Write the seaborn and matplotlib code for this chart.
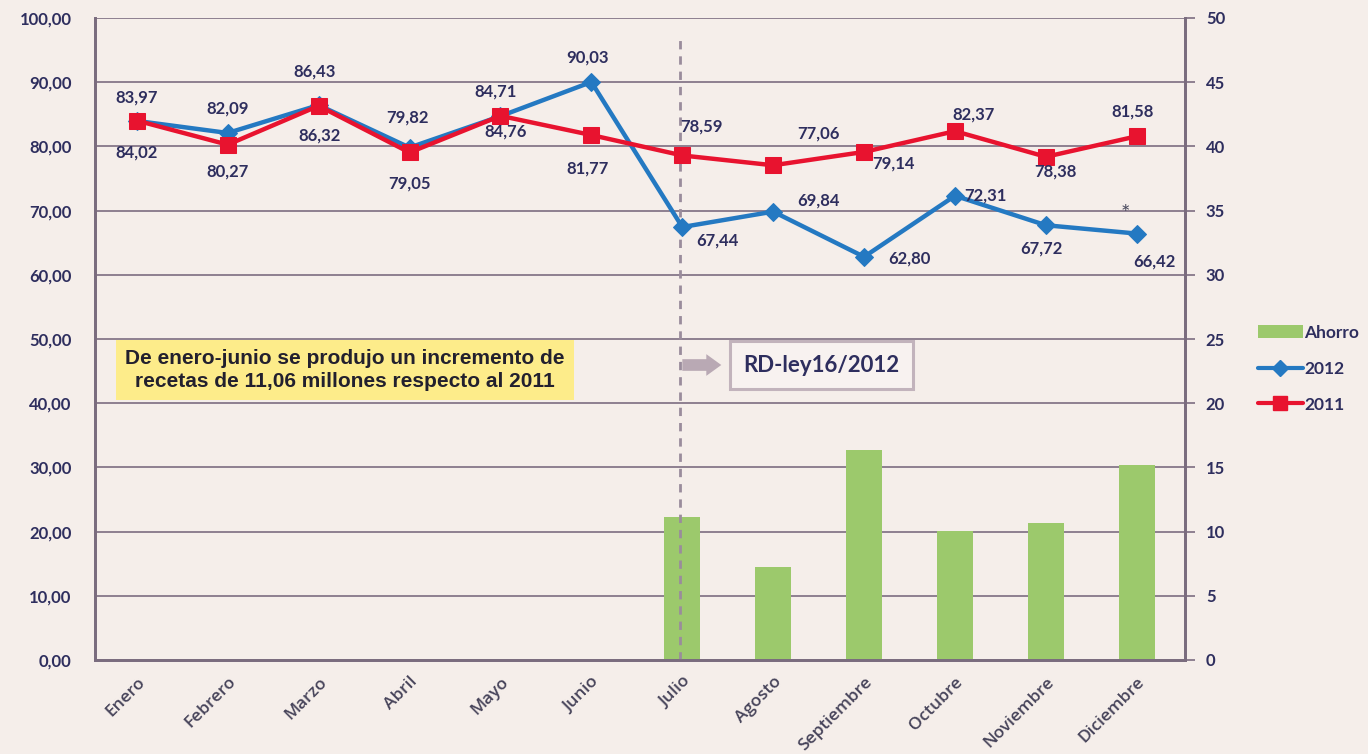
import numpy as np
import pandas as pd
import matplotlib
matplotlib.use("Agg")
import matplotlib.pyplot as plt
import seaborn as sns
from matplotlib.lines import Line2D
from matplotlib.patches import Patch

# ---------------- data ----------------
months = ["Enero", "Febrero", "Marzo", "Abril", "Mayo", "Junio", "Julio",
          "Agosto", "Septiembre", "Octubre", "Noviembre", "Diciembre"]
v2012 = [83.97, 82.09, 86.43, 79.82, 84.71, 90.03, 67.44, 69.84, 62.80, 72.31, 67.72, 66.42]
v2011 = [84.02, 80.27, 86.32, 79.05, 84.76, 81.77, 78.59, 77.06, 79.14, 82.37, 78.38, 81.58]
ahorro_months = ["Julio", "Agosto", "Septiembre", "Octubre", "Noviembre", "Diciembre"]
ahorro = [11.15, 7.22, 16.34, 10.06, 10.66, 15.16]
left_ticks = [0, 10, 20, 30, 40, 50, 60, 70, 80, 90, 100]
right_ticks = [0, 5, 10, 15, 20, 25, 30, 35, 40, 45, 50]

# label offsets (pixels) – styling only
off2012 = [(0, 23), (0, 24), (-4, 34), (-2, 30), (-5, 25), (-4, 24),
           (35, -13), (45, 11), (45, -2), (30, 0), (-4, -23), (18, -28)]
off2011 = [(0, -32), (0, -27), (1, -30), (0, -31), (5, -16), (-4, -33),
           (19, 29), (45, 32), (29, -12), (19, 17), (10, -15), (-4, 25)]

# ---------------- style ----------------
paper = "#f5eeea"
grid_c = "#8e8090"
spine_c = "#7a6c7e"
txt_c = "#2e2e5e"
blue = "#2479c2"
red = "#e8132f"
green = "#9cc96c"

sns.set_theme(style="white")
plt.rcParams["font.family"] = ["Lato", "DejaVu Sans"]

fig = plt.figure(figsize=(13.68, 7.54), dpi=100, facecolor=paper)
ax = fig.add_axes([95 / 1368, 1 - 660 / 754, 1090 / 1368, 642 / 754])
ax2 = ax.twinx()
ax.set_zorder(2)
ax2.set_zorder(1)
ax.patch.set_visible(False)
ax2.patch.set_facecolor(paper)

x = np.arange(len(months))
df = pd.DataFrame({"x": np.concatenate([x, x]),
                   "valor": v2012 + v2011,
                   "serie": ["2012"] * 12 + ["2011"] * 12})
bars = pd.DataFrame({"x": [months.index(m) for m in ahorro_months], "ahorro": ahorro})

# bars on right axis
sns.barplot(data=bars, x="x", y="ahorro", native_scale=True, width=0.4,
            color=green, saturation=1, ax=ax2, zorder=2, linewidth=0)

# lines on left axis
sns.lineplot(data=df[df.serie == "2012"], x="x", y="valor", ax=ax, color=blue,
             lw=3.2, marker="D", markersize=9, markeredgecolor=blue, zorder=4)
sns.lineplot(data=df[df.serie == "2011"], x="x", y="valor", ax=ax, color=red,
             lw=3.2, marker="s", markersize=12, markeredgecolor=red, zorder=5)

xlim = (-0.46, 11.53)
ax.set_xlim(*xlim)
ax2.set_xlim(*xlim)
ax.set_ylim(0, 100)
ax2.set_ylim(0, 50)

# grid on the back axis
for t in right_ticks[1:]:
    ax2.axhline(t, color=grid_c, lw=1.4, zorder=0)

ax.set_yticks(left_ticks)
ax.set_yticklabels([f"{t:.2f}".replace(".", ",") for t in left_ticks])
ax2.set_yticks(right_ticks)
ax2.set_yticklabels([str(t) for t in right_ticks])
ax.set_xticks(x)
ax.set_xticklabels(months, rotation=45, ha="right", rotation_mode="anchor")
ax2.tick_params(axis="x", bottom=False, labelbottom=False)

ax.tick_params(axis="y", length=0, pad=17, labelsize=12, labelcolor=txt_c)
ax2.tick_params(axis="y", length=7, width=1.4, color=grid_c, pad=8,
                labelsize=12, labelcolor=txt_c, right=True)
ax.tick_params(axis="x", length=0, pad=10, labelsize=13, labelcolor="#47445a",
               labelbottom=True)
for lab in ax.get_yticklabels() + ax2.get_yticklabels():
    lab.set_fontweight("bold")
for lab in ax.get_xticklabels():
    lab.set_fontweight("semibold")
    lab.set_fontfamily(["Open Sans", "DejaVu Sans"])
    lab.set_fontsize(12.5)

ax.set_xlabel("")
ax.set_ylabel("")
ax2.set_ylabel("")
ax2.set_xlabel("")
if ax.get_legend():
    ax.get_legend().remove()

for a in (ax, ax2):
    a.spines["top"].set_visible(False)
    for s in ("left", "right", "bottom"):
        a.spines[s].set_color(spine_c)
        a.spines[s].set_linewidth(2)
    a.grid(False)

# data labels
def fmt(v):
    return f"{v:.2f}".replace(".", ",")

for xi, v, o in zip(x, v2012, off2012):
    ax.annotate(fmt(v), (xi, v), xytext=o, textcoords="offset pixels",
                ha="center", va="center", fontsize=12, fontweight="bold",
                color=txt_c, zorder=6)
for xi, v, o in zip(x, v2011, off2011):
    ax.annotate(fmt(v), (xi, v), xytext=o, textcoords="offset pixels",
                ha="center", va="center", fontsize=12, fontweight="bold",
                color=txt_c, zorder=6)
ax.annotate("*", (11, v2012[11]), xytext=(-11, 20), textcoords="offset pixels",
            ha="center", va="center", fontsize=16, color="#4a4a5e")

# dashed vertical marker
ax.axvline(months.index("Julio") - 0.03, ymin=0, ymax=0.965, color="#9a8c9c",
           lw=2, ls=(0, (3, 2.5)), zorder=1)

# yellow note
ax.text(2.29, 45.2, "De enero-junio se produjo un incremento de\nrecetas de 11,06 millones respecto al 2011",
        ha="center", va="center", fontsize=15, fontweight="bold",
        family=["Liberation Sans Narrow", "Liberation Sans", "DejaVu Sans"],
        color="#22202e", linespacing=1.25, zorder=7,
        bbox=dict(boxstyle="square,pad=0.45", fc="#fdec8a", ec="none"))

# RD-ley box and arrow
ax.annotate("", xy=(6.46, 45.95), xytext=(5.97, 45.95),
            arrowprops=dict(arrowstyle="simple,head_width=1.3,head_length=0.9,tail_width=0.7",
                            color="#b9a9b4", lw=0), zorder=6)
ax.text(7.53, 45.95, "RD-ley16/2012", ha="center", va="center", fontsize=16,
        fontweight="bold", color=txt_c, zorder=7,
        bbox=dict(boxstyle="square,pad=0.6", fc="#f8f2f0", ec="#c2b3bc", lw=2.2))

# legend
handles = [Patch(facecolor=green, edgecolor="none"),
           Line2D([], [], color=blue, lw=3, marker="D", markersize=8),
           Line2D([], [], color=red, lw=3, marker="s", markersize=10)]
leg = fig.legend(handles, ["Ahorro", "2012", "2011"], loc="upper left",
                 bbox_to_anchor=(1242 / 1368, 1 - 309 / 754), frameon=False,
                 handlelength=2.6, handletextpad=0.1, labelspacing=1.15,
                 prop=dict(size=12.5, weight="bold"))
for t in leg.get_texts():
    t.set_color(txt_c)

fig.savefig("out.png", dpi=100, facecolor=paper)
